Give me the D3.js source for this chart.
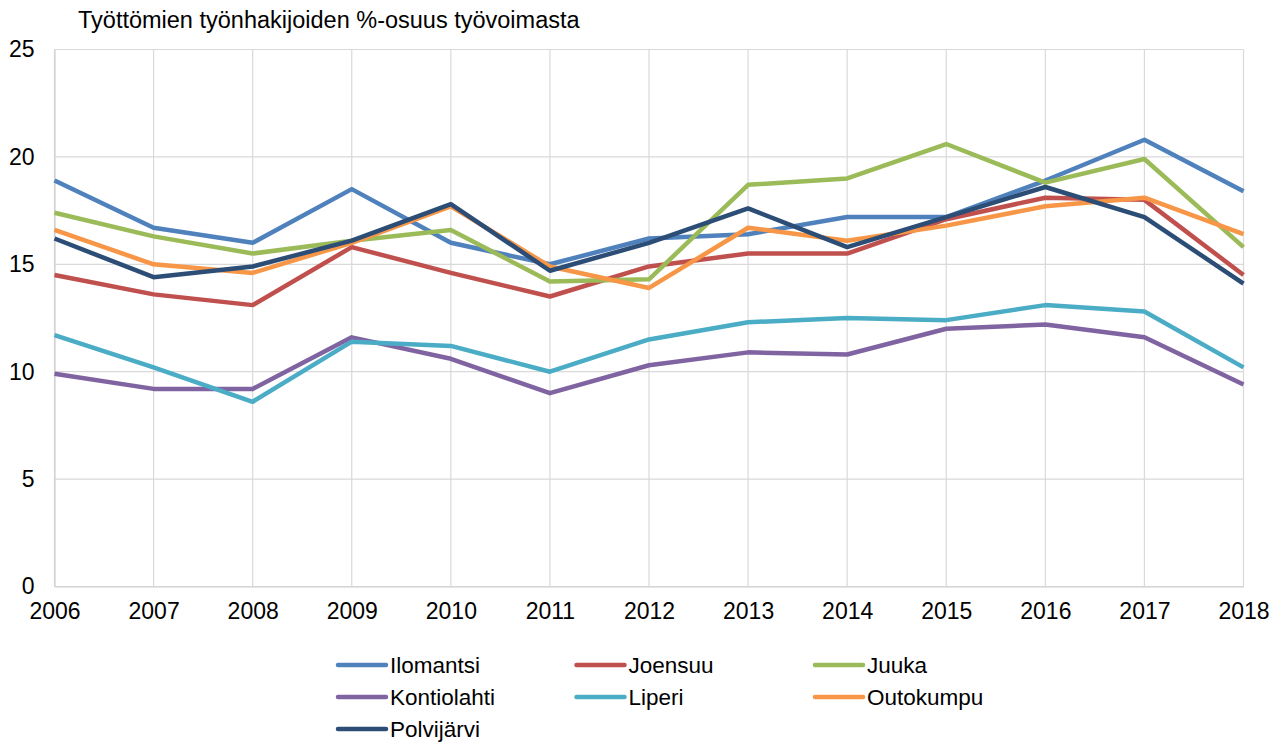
<!DOCTYPE html>
<html>
<head>
  <meta charset="utf-8">
  <title>Työttömien työnhakijoiden %-osuus työvoimasta</title>
  <style>
    body { margin: 0; background: #fff; }
    svg { font-family: "Liberation Sans", Arial, sans-serif; }
  </style>
</head>
<body>
  <svg width="1282" height="742"></svg>
  <script src="https://cdn.jsdelivr.net/npm/d3@7/dist/d3.min.js"></script>
  <script>
  // data
  var years = [2006, 2007, 2008, 2009, 2010, 2011, 2012, 2013, 2014, 2015, 2016, 2017, 2018];
  var names = ["Ilomantsi", "Joensuu", "Juuka", "Kontiolahti", "Liperi", "Outokumpu", "Polvijärvi"];
  var ilomantsi   = [18.9, 16.7, 16.0, 18.5, 16.0, 15.0, 16.2, 16.4, 17.2, 17.2, 18.9, 20.8, 18.4];
  var joensuu     = [14.5, 13.6, 13.1, 15.8, 14.6, 13.5, 14.9, 15.5, 15.5, 17.1, 18.1, 18.0, 14.5];
  var juuka       = [17.4, 16.3, 15.5, 16.1, 16.6, 14.2, 14.3, 18.7, 19.0, 20.6, 18.8, 19.9, 15.8];
  var kontiolahti = [9.9, 9.2, 9.2, 11.6, 10.6, 9.0, 10.3, 10.9, 10.8, 12.0, 12.2, 11.6, 9.4];
  var liperi      = [11.7, 10.2, 8.6, 11.4, 11.2, 10.0, 11.5, 12.3, 12.5, 12.4, 13.1, 12.8, 10.2];
  var outokumpu   = [16.6, 15.0, 14.6, 16.0, 17.7, 14.9, 13.9, 16.7, 16.1, 16.8, 17.7, 18.1, 16.4];
  var polvijarvi  = [16.2, 14.4, 14.9, 16.1, 17.8, 14.7, 16.0, 17.6, 15.8, 17.2, 18.6, 17.2, 14.1];
  var yTicks = [0, 5, 10, 15, 20, 25];
  var colors = ["#4F81BD", "#C0504D", "#9BBB59", "#8064A2", "#4BACC6", "#F79646", "#2C4D75"];

  var series = [ilomantsi, joensuu, juuka, kontiolahti, liperi, outokumpu, polvijarvi].map(function(v, i) {
    return { name: names[i], color: colors[i], values: v };
  });

  var svg = d3.select("svg");
  // plot area (note: "top" is a reserved window property, so use other names)
  var plotL = 54.5, plotR = 1243.5, plotT = 49.5, plotB = 586.5;

  var x = d3.scaleLinear().domain([2006, 2018]).range([plotL, plotR]);
  var y = d3.scaleLinear().domain([0, 25]).range([plotB, plotT]);

  // title
  svg.append("text")
    .attr("x", 78)
    .attr("y", 28)
    .style("font-size", "23.5px")
    .attr("fill", "#000")
    .text("Työttömien työnhakijoiden %-osuus työvoimasta");

  // grid
  svg.append("g").selectAll("line")
    .data(yTicks)
    .enter()
    .append("line")
    .attr("x1", plotL).attr("x2", plotR)
    .attr("y1", function(d) { return y(d); })
    .attr("y2", function(d) { return y(d); })
    .attr("stroke", "#d9d9d9")
    .attr("stroke-width", 1.2);

  svg.append("g").selectAll("line")
    .data(years)
    .enter()
    .append("line")
    .attr("x1", function(d) { return x(d); })
    .attr("x2", function(d) { return x(d); })
    .attr("y1", plotT).attr("y2", plotB)
    .attr("stroke", "#d9d9d9")
    .attr("stroke-width", 1.2);

  // axes
  var yAxis = svg.append("g")
    .attr("transform", "translate(" + plotL + ",0)")
    .call(d3.axisLeft(y).tickValues(yTicks).tickSize(0).tickPadding(20));
  yAxis.select(".domain").attr("stroke", "#d0d0d0").attr("stroke-width", 1.2);
  yAxis.selectAll("text").style("font-size", "23px").attr("fill", "#000").attr("font-family", null);

  var xAxis = svg.append("g")
    .attr("transform", "translate(0," + plotB + ")")
    .call(d3.axisBottom(x).tickValues(years).tickFormat(d3.format("d")).tickSize(0).tickPadding(16));
  xAxis.select(".domain").attr("stroke", "#d0d0d0").attr("stroke-width", 1.2);
  xAxis.selectAll("text").style("font-size", "23px").attr("fill", "#000").attr("font-family", null);

  // lines
  var line = d3.line()
    .x(function(d, i) { return x(years[i]); })
    .y(function(d) { return y(d); });

  svg.append("g").selectAll("path")
    .data(series)
    .enter()
    .append("path")
    .attr("d", function(d) { return line(d.values); })
    .attr("fill", "none")
    .attr("stroke", function(d) { return d.color; })
    .attr("stroke-width", 4.5)
    .attr("stroke-linejoin", "round");

  // legend
  var legend = svg.append("g").selectAll("g")
    .data(series)
    .enter()
    .append("g")
    .attr("transform", function(d, i) {
      return "translate(" + (338 + (i % 3) * 238.5) + "," + (665 + Math.floor(i / 3) * 32) + ")";
    });

  legend.append("line")
    .attr("x1", 0).attr("x2", 48)
    .attr("stroke", function(d) { return d.color; })
    .attr("stroke-width", 4.5)
    .attr("stroke-linecap", "round");

  legend.append("text")
    .attr("x", 52)
    .attr("dy", "0.35em")
    .style("font-size", "22.5px")
    .attr("fill", "#000")
    .text(function(d) { return d.name; });
  </script>
</body>
</html>
